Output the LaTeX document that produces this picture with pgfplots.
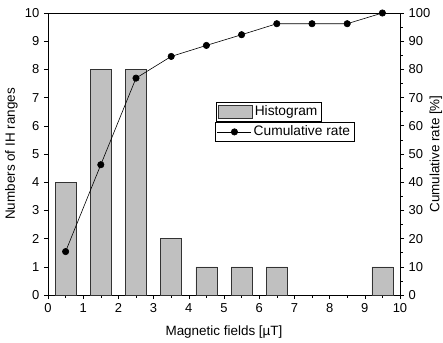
\documentclass[border=0pt]{standalone}
\usepackage{pgfplots}
\pgfplotsset{compat=1.18}
\usepackage{fontspec}
\setmainfont{Liberation Sans}
\definecolor{bargray}{RGB}{192,192,192}
\begin{document}
\fontsize{13.5}{16}\selectfont
\begin{tikzpicture}
\path[use as bounding box] (-48bp,-48bp) rectangle (395bp,295bp);
\pgfplotsset{
  every axis/.append style={
    scale only axis, width=352bp, height=282bp,
    /pgf/number format/assume math mode=true,
    tick label style={font=\fontsize{13}{15}\selectfont},
    label style={font=\fontsize{13.5}{16}\selectfont},
    tick align=outside,
    major tick length=4bp, minor tick length=2.5bp,
    every tick/.style={black, line width=0.6pt},
    axis line style={line width=0.7pt},
  }
}
\begin{axis}[
  xmin=0, xmax=10, ymin=0, ymax=10,
  xtick={0,...,10}, ytick={0,...,10},
  minor x tick num=1,
  xtick pos=bottom, ytick pos=left,
  xlabel={Magnetic fields [µT]},
  ylabel={Numbers of IH ranges},
  xlabel style={at={(axis description cs:0.5,-0.131)}, anchor=center},
  ylabel style={at={(axis description cs:-0.104,0.5)}, anchor=center},
  legend style={at={(0.477,0.684)}, anchor=north west, draw=black, line width=0.6pt,
    font=\fontsize{13.8}{16}\selectfont, inner xsep=2bp, inner ysep=1.5bp, legend cell align=left},
  legend image code/.code={\draw[#1] (0bp,-6bp) rectangle (34bp,7bp);},
]
\addplot[ybar, bar width=0.6, bar shift=0, fill=bargray, draw=black!80, line width=0.6pt]
  coordinates {(0.5,4) (1.5,8) (2.5,8) (3.5,2) (4.5,1) (5.5,1) (6.5,1) (9.5,1)};
\addlegendentry{Histogram}
\end{axis}
\begin{axis}[
  xmin=0, xmax=10, ymin=0, ymax=100,
  hide x axis,
  axis y line*=right,
  ytick={0,10,...,100},
  minor y tick num=1,
  ylabel={Cumulative rate [\%]},
  ylabel style={at={(axis description cs:1.102,0.5)}, anchor=center},
  legend style={at={(0.474,0.613)}, anchor=north west, draw=black, line width=0.6pt,
    font=\fontsize{13.8}{16}\selectfont, inner xsep=2bp, inner ysep=1.5bp, legend cell align=left},
  legend image code/.code={\draw[mark repeat=2,mark phase=2,#1] plot coordinates {(0bp,0bp) (17bp,0bp) (34bp,0bp)};},
]
\addplot[black, line width=0.6pt, mark=*, mark size=3.2bp, mark options={fill=black}]
  coordinates {(0.5,15.4) (1.5,46.2) (2.5,76.9) (3.5,84.6) (4.5,88.5) (5.5,92.3) (6.5,96.2) (7.5,96.2) (8.5,96.2) (9.5,100)};
\addlegendentry{Cumulative rate}
\end{axis}
\end{tikzpicture}
\end{document}
